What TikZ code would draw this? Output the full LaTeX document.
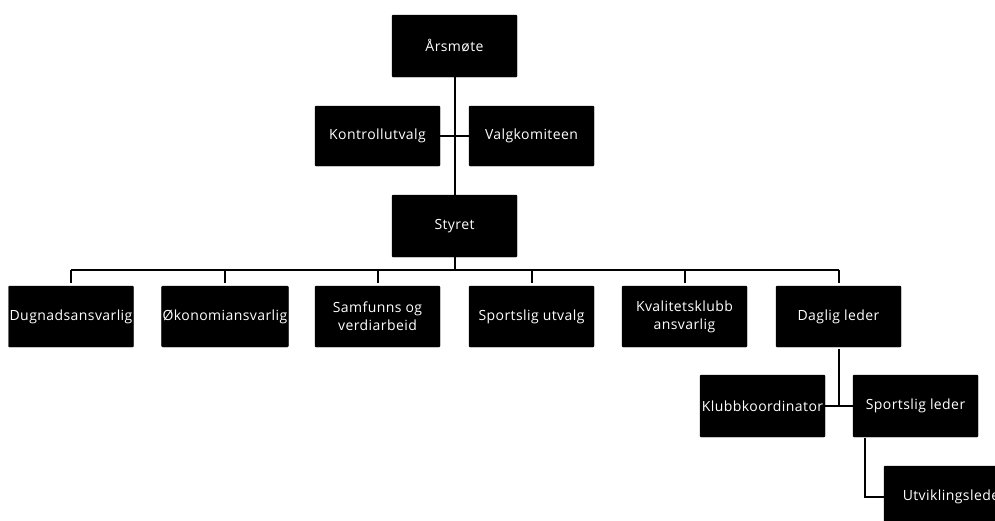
\documentclass[tikz,border=0pt]{standalone}
\usepackage{fontspec}
\setmainfont{Open Sans}[LetterSpace=3]
\begin{document}
\begin{tikzpicture}[x=1pt,y=-1pt,
  box/.style={fill=black,draw=black,rounded corners=1pt,minimum width=125pt,minimum height=62pt,inner sep=1pt,
    text=white,font=\fontsize{14pt}{18pt}\selectfont,align=center},
  conn/.style={line width=2pt,draw=black}]
\useasboundingbox (0,0) rectangle (995,520);
\clip (0,0) rectangle (995,520);
\node[box] (aars) at (454.5,46) {Årsmøte};
\node[box,minimum height=60pt] (kontroll) at (377.5,136) {Kontrollutvalg};
\node[box,minimum height=60pt] (valg) at (531.5,136) {Valgkomiteen};
\node[box] (styret) at (454.5,226) {Styret};
\node[box,minimum height=61pt] (d1) at (71,316.5) {Dugnadsansvarlig};
\node[box,minimum height=61pt] (d2) at (225,316.5) {Økonomiansvarlig};
\node[box,minimum height=61pt] (d3) at (377.5,316.5) {Samfunns og\\verdiarbeid};
\node[box,minimum height=61pt] (d4) at (531.5,316.5) {Sportslig utvalg};
\node[box,minimum height=61pt] (d5) at (684.5,316.5) {Kvalitetsklubb\\ansvarlig};
\node[box,minimum height=61pt] (d6) at (838.5,316.5) {Daglig leder};
\node[box] (klubb) at (762.5,406) {Klubbkoordinator};
\node[box] (sleder) at (915.5,406) {Sportslig leder};
\node[box,minimum width=140pt] (utv) at (954,497) {Utviklingsleder};
\coordinate (bus) at (454.5,270);
\draw[conn] (aars.south) -- (styret.north);
\draw[conn] (kontroll.east) -- (valg.west);
\draw[conn] (styret.south) -- (bus);
\draw[conn] (d1.north |- bus) -- (d6.north |- bus);
\foreach \n in {d1,d2,d3,d4,d5,d6}
  \draw[conn,shorten >=3pt] (\n.north |- bus) -- (\n.north);
\draw[conn,shorten <=2pt] (d6.south) -- (d6.south |- klubb.east);
\draw[conn] (klubb.east) -- (sleder.west);
\draw[conn,shorten <=1pt] ([xshift=12pt]sleder.south west) |- (utv.west);
\end{tikzpicture}
\end{document}
